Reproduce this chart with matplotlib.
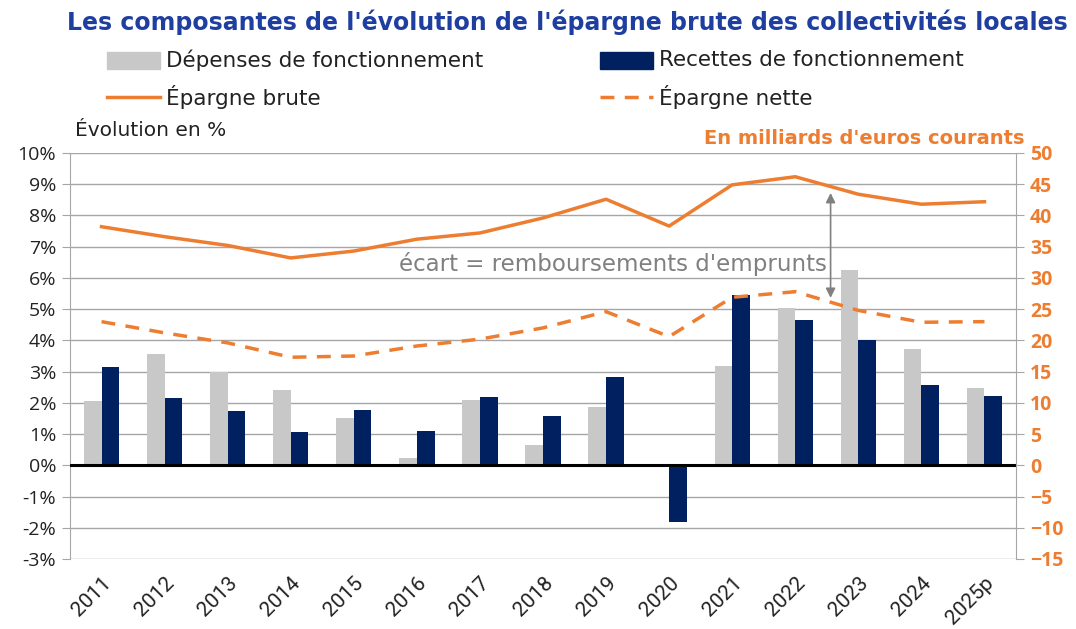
import matplotlib
matplotlib.use("Agg")
import matplotlib.pyplot as plt
import numpy as np
from matplotlib.patches import Rectangle
from matplotlib.lines import Line2D

years = ["2011", "2012", "2013", "2014", "2015", "2016", "2017", "2018",
         "2019", "2020", "2021", "2022", "2023", "2024", "2025p"]
depenses = [2.05, 3.55, 3.0, 2.4, 1.52, 0.25, 2.1, 0.65, 1.87, 0.0, 3.18, 5.05, 6.25, 3.72, 2.47]
recettes = [3.15, 2.15, 1.75, 1.08, 1.77, 1.1, 2.2, 1.57, 2.83, -1.8, 5.45, 4.65, 4.02, 2.57, 2.22]
epargne_brute = [38.2, 36.6, 35.2, 33.2, 34.3, 36.2, 37.2, 39.6, 42.6, 38.3, 44.9, 46.2, 43.4, 41.8, 42.2]
epargne_nette = [23.0, 21.2, 19.6, 17.3, 17.5, 19.1, 20.2, 22.0, 24.6, 20.6, 26.9, 27.8, 24.8, 22.9, 23.0]
left_ticks = list(range(-3, 11))
right_ticks = list(range(-15, 51, 5))

ORANGE = "#ED7D31"
NAVY = "#002060"
GREY = "#C8C8C8"
BLUE_T = "#1F3FA0"
TXT = "#222222"

fig = plt.figure(figsize=(10.76, 6.29), dpi=100)
ax = fig.add_axes([70/1076, 70/629, 946/1076, 406/629])
ax2 = ax.twinx()

x = np.arange(len(years))
w = 0.28
ax.bar(x - w/2, depenses, w, color=GREY, zorder=2)
ax.bar(x + w/2, recettes, w, color=NAVY, zorder=2)
ax.axhline(0, color="black", lw=2.2, zorder=3)

ax.set_ylim(-3, 10)
ax.set_xlim(-0.5, len(years) - 0.5)
ax.set_yticks(left_ticks)
ax.set_yticklabels([f"{t}%" for t in left_ticks])
ax.yaxis.grid(True, color="#A6A6A6", lw=1.0, zorder=0)
ax.set_axisbelow(True)
ax.set_xticks(x)
ax.set_xticklabels(years, rotation=45, ha="right", rotation_mode="anchor",
                   fontsize=15, family="Roboto", color=TXT)
ax.tick_params(axis="x", length=0, pad=10)
ax.tick_params(axis="y", length=6, color="#A6A6A6", labelsize=14, labelcolor=TXT, pad=4)
for lab in ax.get_yticklabels():
    lab.set_family("Open Sans")
for s in ["top", "right", "bottom"]:
    ax.spines[s].set_visible(False)
ax.spines["left"].set_color("#A6A6A6")

ax2.plot(x, epargne_brute, color=ORANGE, lw=2.5, zorder=4)
ax2.plot(x, epargne_nette, color=ORANGE, lw=2.5, ls=(0, (4, 3)), zorder=4)
ax2.set_ylim(-15, 50)
ax2.set_yticks(right_ticks)
ax2.tick_params(axis="y", length=6, color="#A6A6A6", labelsize=14, labelcolor=ORANGE, pad=4)
for lab in ax2.get_yticklabels():
    lab.set_family("Open Sans")
    lab.set_fontweight("bold")
for s in ["top", "left", "bottom"]:
    ax2.spines[s].set_visible(False)
ax2.spines["right"].set_color("#A6A6A6")

# annotation
ax2.annotate("", xy=(11.56, 43.6), xytext=(11.56, 26.8),
             arrowprops=dict(arrowstyle="<|-|>", color="#808080", lw=1.2,
                             mutation_scale=14, shrinkA=0, shrinkB=0))
ax2.text(11.5, 32.2, "écart = remboursements d'emprunts", ha="right", va="center",
         fontsize=16.5, color="#808080", family="DejaVu Sans")

# titles
fig.text(1068/1076, 1 - 22/629, "Les composantes de l'évolution de l'épargne brute des collectivités locales",
         ha="right", va="center", fontsize=17, fontweight="bold", color=BLUE_T, family="DejaVu Sans")
fig.text(75/1076, 1 - 131/629, "Évolution en %", ha="left", va="center",
         fontsize=14.5, color=TXT, family="DejaVu Sans")
fig.text(1025/1076, 1 - 139/629, "En milliards d'euros courants", ha="right", va="center",
         fontsize=14, fontweight="bold", color=ORANGE, family="DejaVu Sans")

# legend (manual)
def fx(px): return px / 1076
def fy(py): return 1 - py / 629
fig.patches.append(Rectangle((fx(107), fy(69)), 53/1076, 17/629, transform=fig.transFigure, color=GREY))
fig.patches.append(Rectangle((fx(600), fy(69)), 53/1076, 17/629, transform=fig.transFigure, color=NAVY))
fig.lines.append(Line2D([fx(107), fx(160)], [fy(97), fy(97)], transform=fig.transFigure, color=ORANGE, lw=2.5))
fig.lines.append(Line2D([fx(600), fx(653)], [fy(97), fy(97)], transform=fig.transFigure, color=ORANGE, lw=2.5,
                        ls=(0, (4, 3))))
for (px, py, t) in [(166, 60, "Dépenses de fonctionnement"), (659, 60, "Recettes de fonctionnement"),
                    (166, 97, "Épargne brute"), (659, 97, "Épargne nette")]:
    fig.text(fx(px), fy(py), t, ha="left", va="center", fontsize=15.5, color=TXT, family="DejaVu Sans")

fig.savefig("out.png", dpi=100, facecolor="white")
